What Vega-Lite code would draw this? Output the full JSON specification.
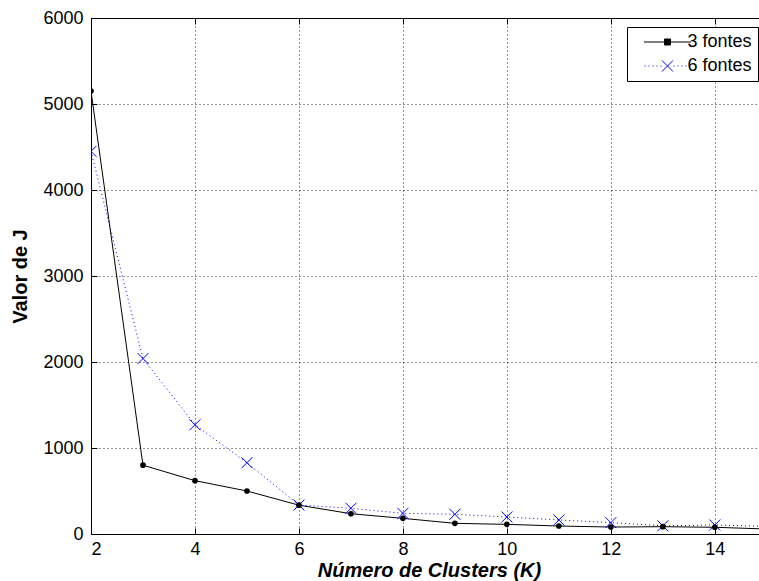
{
  "$schema": "https://vega.github.io/schema/vega-lite/v6.json",
  "width": 668,
  "height": 516,
  "autosize": {"type": "none"},
  "padding": {"left": 91, "top": 18, "right": 0, "bottom": 47},
  "background": "white",
  "config": {
    "font": "Liberation Sans",
    "view": {"stroke": "black", "strokeWidth": 1}
  },
  "data": {
    "values": [
      {"K": 2, "series": "3 fontes", "J": 5150},
      {"K": 3, "series": "3 fontes", "J": 800},
      {"K": 4, "series": "3 fontes", "J": 620},
      {"K": 5, "series": "3 fontes", "J": 500},
      {"K": 6, "series": "3 fontes", "J": 335},
      {"K": 7, "series": "3 fontes", "J": 236},
      {"K": 8, "series": "3 fontes", "J": 182},
      {"K": 9, "series": "3 fontes", "J": 124},
      {"K": 10, "series": "3 fontes", "J": 112},
      {"K": 11, "series": "3 fontes", "J": 93},
      {"K": 12, "series": "3 fontes", "J": 81},
      {"K": 13, "series": "3 fontes", "J": 85},
      {"K": 14, "series": "3 fontes", "J": 78},
      {"K": 15, "series": "3 fontes", "J": 58},
      {"K": 2, "series": "6 fontes", "J": 4450},
      {"K": 3, "series": "6 fontes", "J": 2040},
      {"K": 4, "series": "6 fontes", "J": 1270},
      {"K": 5, "series": "6 fontes", "J": 829},
      {"K": 6, "series": "6 fontes", "J": 337},
      {"K": 7, "series": "6 fontes", "J": 299},
      {"K": 8, "series": "6 fontes", "J": 240},
      {"K": 9, "series": "6 fontes", "J": 229},
      {"K": 10, "series": "6 fontes", "J": 198},
      {"K": 11, "series": "6 fontes", "J": 163},
      {"K": 12, "series": "6 fontes", "J": 132},
      {"K": 13, "series": "6 fontes", "J": 95},
      {"K": 14, "series": "6 fontes", "J": 105},
      {"K": 15, "series": "6 fontes", "J": 88}
    ]
  },
  "layer": [
    {
      "transform": [{"filter": "datum.series === '6 fontes'"}],
      "mark": {"type": "line", "color": "#0000ff", "strokeWidth": 1, "strokeDash": [1, 3], "clip": true},
      "encoding": {
        "x": {
          "field": "K", "type": "quantitative",
          "scale": {"domain": [2, 14.85], "nice": false, "zero": false},
          "axis": {
            "orient": "bottom",
            "values": [2, 4, 6, 8, 10, 12, 14],
            "grid": true, "gridDash": [1, 3], "gridColor": "#000000", "gridOpacity": 0.85, "gridWidth": 1,
            "domain": true, "domainColor": "black", "domainWidth": 1,
            "ticks": true, "tickSize": -6, "tickColor": "black", "tickWidth": 1,
            "labelFontSize": 18, "labelColor": "black", "labelFont": "Liberation Sans", "labelPadding": 12,
            "title": "Número de Clusters (K)",
            "titleFontSize": 20, "titleFontWeight": "bold", "titleFontStyle": "italic",
            "titleColor": "black", "titleFont": "Liberation Sans", "titlePadding": 2, "titleX": 338
          }
        },
        "y": {
          "field": "J", "type": "quantitative",
          "scale": {"domain": [0, 6000], "nice": false},
          "axis": {
            "orient": "left",
            "values": [0, 1000, 2000, 3000, 4000, 5000, 6000],
            "format": "d",
            "grid": true, "gridDash": [1, 3], "gridColor": "#000000", "gridOpacity": 0.85, "gridWidth": 1,
            "domain": true, "domainColor": "black", "domainWidth": 1,
            "ticks": true, "tickSize": -6, "tickColor": "black", "tickWidth": 1,
            "labelFontSize": 18, "labelColor": "black", "labelFont": "Liberation Sans", "labelPadding": 14,
            "title": "Valor de J",
            "titleFontSize": 20, "titleFontWeight": "bold",
            "titleColor": "black", "titleFont": "Liberation Sans", "titlePadding": 12
          }
        }
      }
    },
    {
      "transform": [{"filter": "datum.series === '3 fontes'"}],
      "mark": {"type": "line", "color": "black", "strokeWidth": 1, "clip": true},
      "encoding": {
        "x": {
          "field": "K", "type": "quantitative",
          "scale": {"domain": [2, 14.85], "nice": false, "zero": false},
          "axis": {
            "orient": "top", "values": [2, 4, 6, 8, 10, 12, 14],
            "labels": false, "domain": false, "grid": false,
            "ticks": true, "tickSize": -6, "tickColor": "black", "tickWidth": 1,
            "title": null
          }
        },
        "y": {"field": "J", "type": "quantitative", "scale": {"domain": [0, 6000], "nice": false}, "axis": null}
      }
    },
    {
      "transform": [{"filter": "datum.series === '6 fontes'"}],
      "mark": {"type": "point", "shape": "M-1,-1L1,1M-1,1L1,-1", "filled": false, "color": "#0000ff", "strokeWidth": 1, "size": 121, "opacity": 1, "clip": true},
      "encoding": {
        "x": {"field": "K", "type": "quantitative", "scale": {"domain": [2, 14.85], "nice": false, "zero": false}, "axis": null},
        "y": {"field": "J", "type": "quantitative", "scale": {"domain": [0, 6000], "nice": false}, "axis": null}
      }
    },
    {
      "transform": [{"filter": "datum.series === '3 fontes'"}],
      "mark": {"type": "point", "shape": "circle", "filled": true, "color": "black", "size": 32, "opacity": 1, "clip": true},
      "encoding": {
        "x": {"field": "K", "type": "quantitative", "scale": {"domain": [2, 14.85], "nice": false, "zero": false}, "axis": null},
        "y": {"field": "J", "type": "quantitative", "scale": {"domain": [0, 6000], "nice": false}, "axis": null}
      }
    },
    {
      "transform": [{"filter": "datum.K < 0"}],
      "mark": {"type": "point", "opacity": 1, "strokeWidth": 1},
      "encoding": {
        "shape": {
          "field": "series", "type": "nominal",
          "scale": {
            "domain": ["3 fontes", "6 fontes"],
            "range": [
              "M-23.5,0H23.5M-3,-3H3V3H-3Z",
              "M-23,0h1M-19,0h1M-15,0h1M-11,0h1M-7,0h1M6,0h1M10,0h1M14,0h1M18,0h1M22,0h1M-5.5,-5.5L5.5,5.5M-5.5,5.5L5.5,-5.5"
            ]
          },
          "legend": {
            "title": null,
            "orient": "none",
            "legendX": 536,
            "legendY": 9,
            "padding": 6,
            "strokeColor": "black",
            "fillColor": "white",
            "cornerRadius": 0,
            "labelFontSize": 18,
            "labelColor": "black",
            "labelFont": "Liberation Sans",
            "symbolSize": 4,
            "symbolStrokeWidth": 1,
            "symbolOffset": 25.5,
            "labelOffset": 11,
            "rowPadding": 6
          }
        },
        "stroke": {
          "field": "series", "type": "nominal",
          "scale": {"domain": ["3 fontes", "6 fontes"], "range": ["black", "#0000ff"]},
          "legend": {"title": null}
        },
        "fill": {
          "field": "series", "type": "nominal",
          "scale": {"domain": ["3 fontes", "6 fontes"], "range": ["black", "transparent"]},
          "legend": {"title": null}
        },
        "size": {"value": 4}
      }
    }
  ],
  "resolve": {"axis": {"x": "independent", "y": "independent"}}
}
